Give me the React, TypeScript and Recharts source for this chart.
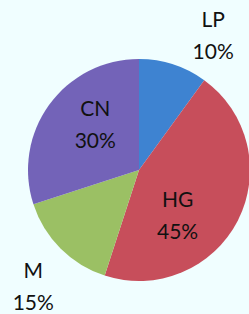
import { PieChart, Pie, Cell } from "recharts";

const names = ["LP", "HG", "M", "CN"];
const shares = [10, 45, 15, 30];
const colors = ["#3E83D1", "#C74E5B", "#9BC064", "#7363B8"];

// where each label sits, as [angle in degrees, distance from centre in px]
const labelSpots: [number, number][] = [
  [61, 153],
  [-50, 60],
  [-132, 158],
  [134, 63],
];

const data = names.map((name, i) => ({ name, value: shares[i] }));

const RAD = Math.PI / 180;

function renderLabel(props: any) {
  const { cx, cy, index } = props;
  const [ang, dist] = labelSpots[index];
  const x = cx + dist * Math.cos(ang * RAD);
  const y = cy - dist * Math.sin(ang * RAD);
  return (
    <text
      x={x}
      y={y}
      textAnchor="middle"
      fill="#111"
      fontFamily="Lato, 'Open Sans', sans-serif"
      fontSize={21}
    >
      <tspan x={x} dy={-9}>
        {names[index]}
      </tspan>
      <tspan x={x} dy={32}>
        {shares[index]}%
      </tspan>
    </text>
  );
}

export default function App() {
  return (
    <div
      style={{
        position: "fixed",
        left: 0,
        top: 0,
        width: 249,
        height: 314,
        background: "#F0FEFF",
      }}
    >
      <PieChart width={249} height={314} margin={{ top: 0, right: 0, bottom: 0, left: 0 }}>
        <Pie
          data={data}
          dataKey="value"
          cx={139}
          cy={170}
          outerRadius={111}
          startAngle={90}
          endAngle={-270}
          stroke="none"
          label={renderLabel}
          labelLine={false}
          isAnimationActive={false}
        >
          {data.map((d, i) => (
            <Cell key={d.name} fill={colors[i]} />
          ))}
        </Pie>
      </PieChart>
    </div>
  );
}
